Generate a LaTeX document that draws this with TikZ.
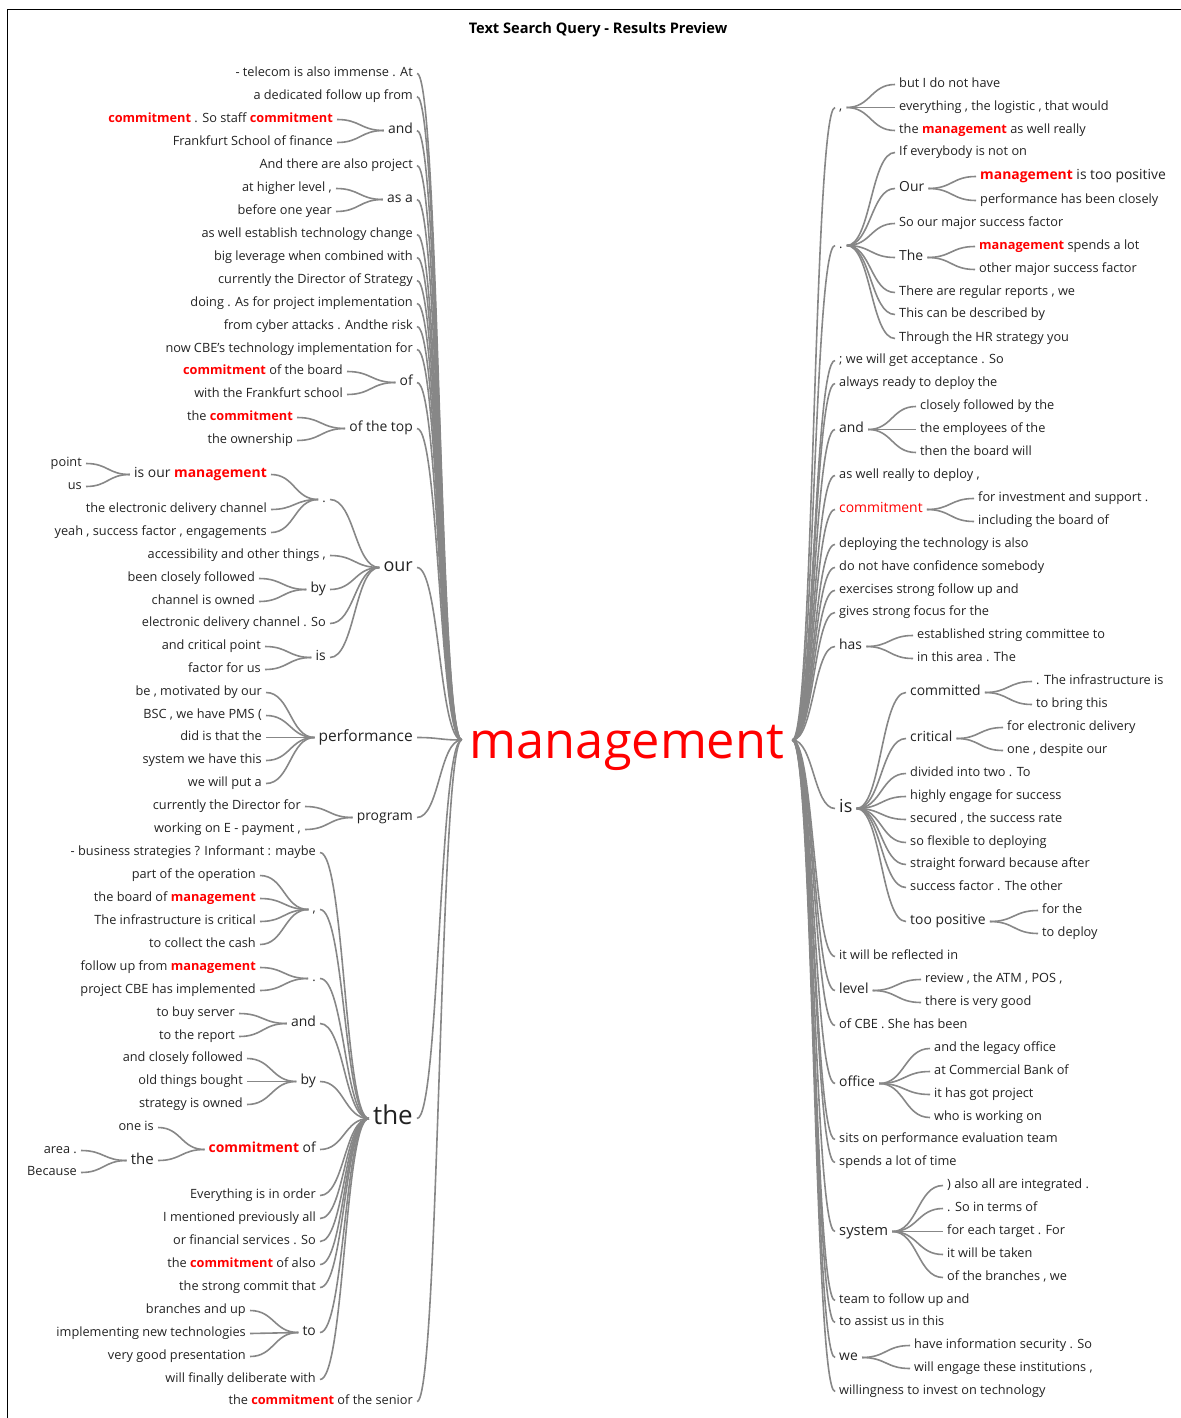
\documentclass[tikz,border=0pt]{standalone}
\usepackage{fontspec}
\setmainfont{Open Sans}
\usetikzlibrary{calc}

\definecolor{ink}{RGB}{34,34,34}
\definecolor{twig}{RGB}{135,135,135}
\newcommand{\kw}[1]{{\color{red}\bfseries #1}}

\begin{document}
\begin{tikzpicture}[x=1pt,y=-1pt,
  word/.style={inner sep=0pt,yshift=-2.5pt,text=ink,execute at begin node=\strut,font=\fontsize{12.75}{15.3}\selectfont},
  lw/.style={word,anchor=east},
  rw/.style={word,anchor=west},
  big/.style={font=\fontsize{13.9}{16.7}\selectfont},
  branch/.style={draw=twig,line width=1.6pt,shorten <=4pt,shorten >=4pt,
    to path={let \p1=(\tikztostart), \p2=(\tikztotarget) in
      .. controls ({(\x1+\x2)/2},\y1) and ({(\x1+\x2)/2},\y2) .. (\tikztotarget)}}]

  \useasboundingbox (0,0) rectangle (1180,1418);
  \draw[line width=1pt] (7.5,9.5) rectangle (1186,1424);

  \node[font=\bfseries\fontsize{14.6}{17}\selectfont] (title) at (598,30) {Text Search Query - Results Preview};
  \node[inner sep=4pt,text=red,font=\fontsize{50.5}{60}\selectfont,text height=40pt,text depth=4pt] (root) at (627,740) {management};

  % left side
  \node[lw] (l1) at (413,71) {- telecom is also immense . At};
  \node[lw] (l2) at (413,94) {a dedicated follow up from};
  \node[lw,big] (l3) at (413,128) {and};
  \node[lw] (l3a) at (333,117) {\kw{commitment} . So staff \kw{commitment}};
  \node[lw] (l3b) at (333,140) {Frankfurt School of finance};
  \node[lw] (l4) at (413,163) {And there are also project};
  \node[lw,big] (l5) at (413,197) {as a};
  \node[lw] (l5a) at (332,186) {at higher level ,};
  \node[lw] (l5b) at (332,209) {before one year};
  \node[lw] (l6) at (413,232) {as well establish technology change};
  \node[lw] (l7) at (413,255) {big leverage when combined with};
  \node[lw] (l8) at (413,278) {currently the Director of Strategy};
  \node[lw] (l9) at (413,301) {doing . As for project implementation};
  \node[lw] (l10) at (413,324) {from cyber attacks . Andthe risk};
  \node[lw] (l11) at (413,347) {now CBE’s technology implementation for};
  \node[lw,big] (l12) at (413,380) {of};
  \node[lw] (l12a) at (343,369) {\kw{commitment} of the board};
  \node[lw] (l12b) at (343,392) {with the Frankfurt school};
  \node[lw,big] (l13) at (413,426) {of the top};
  \node[lw] (l13a) at (293,415) {the \kw{commitment}};
  \node[lw] (l13b) at (293,438) {the ownership};
  \node[lw,font=\fontsize{18}{21.6}\selectfont] (l14) at (413,565) {our};
  \node[lw] (l14a) at (326,497) {.};
  \node[lw,big] (l14a1) at (267,472) {is our \kw{management}};
  \node[lw] (l14a1a) at (82,461) {point};
  \node[lw] (l14a1b) at (82,484) {us};
  \node[lw] (l14a2) at (267,507) {the electronic delivery channel};
  \node[lw] (l14a3) at (267,530) {yeah , success factor , engagements};
  \node[lw] (l14b) at (326,553) {accessibility and other things ,};
  \node[lw,big] (l14c) at (326,587) {by};
  \node[lw] (l14c1) at (255,576) {been closely followed};
  \node[lw] (l14c2) at (255,599) {channel is owned};
  \node[lw] (l14d) at (326,621) {electronic delivery channel . So};
  \node[lw,big] (l14e) at (326,655) {is};
  \node[lw] (l14e1) at (261,644) {and critical point};
  \node[lw] (l14e2) at (261,667) {factor for us};
  \node[lw,font=\fontsize{15.5}{18.6}\selectfont] (l15) at (413,735) {performance};
  \node[lw] (l15a) at (262,690) {be , motivated by our};
  \node[lw] (l15b) at (262,713) {BSC , we have PMS (};
  \node[lw] (l15c) at (262,735) {did is that the};
  \node[lw] (l15d) at (262,758) {system we have this};
  \node[lw] (l15e) at (262,781) {we will put a};
  \node[lw,big] (l16) at (413,815) {program};
  \node[lw] (l16a) at (301,804) {currently the Director for};
  \node[lw] (l16b) at (301,827) {working on E - payment ,};
  \node[lw,font=\fontsize{26}{31.2}\selectfont] (l17) at (413,1116) {the};
  \node[lw] (l17a) at (316,850) {- business strategies ? Informant : maybe};
  \node[lw] (l17b) at (316,907) {,};
  \node[lw] (l17b1) at (256,873) {part of the operation};
  \node[lw] (l17b2) at (256,896) {the board of \kw{management}};
  \node[lw] (l17b3) at (256,919) {The infrastructure is critical};
  \node[lw] (l17b4) at (256,942) {to collect the cash};
  \node[lw] (l17c) at (316,976) {.};
  \node[lw] (l17c1) at (256,965) {follow up from \kw{management}};
  \node[lw] (l17c2) at (256,988) {project CBE has implemented};
  \node[lw,big] (l17d) at (316,1021) {and};
  \node[lw] (l17d1) at (235,1011) {to buy server};
  \node[lw] (l17d2) at (235,1034) {to the report};
  \node[lw,big] (l17e) at (316,1079) {by};
  \node[lw] (l17e1) at (243,1056) {and closely followed};
  \node[lw] (l17e2) at (243,1079) {old things bought};
  \node[lw] (l17e3) at (243,1102) {strategy is owned};
  \node[lw,big] (l17f) at (316,1147) {\kw{commitment} of};
  \node[lw] (l17f1) at (154,1125) {one is};
  \node[lw,font=\fontsize{15}{18}\selectfont] (l17f2) at (154,1158) {the};
  \node[lw] (l17f2a) at (77,1148) {area .};
  \node[lw] (l17f2b) at (77,1170) {Because};
  \node[lw] (l17g) at (316,1193) {Everything is in order};
  \node[lw] (l17h) at (316,1216) {I mentioned previously all};
  \node[lw] (l17i) at (316,1239) {or financial services . So};
  \node[lw] (l17j) at (316,1262) {the \kw{commitment} of also};
  \node[lw] (l17k) at (316,1285) {the strong commit that};
  \node[lw,big] (l17l) at (316,1330) {to};
  \node[lw] (l17l1) at (246,1308) {branches and up};
  \node[lw] (l17l2) at (246,1331) {implementing new technologies};
  \node[lw] (l17l3) at (246,1354) {very good presentation};
  \node[lw] (l17m) at (316,1377) {will finally deliberate with};
  \node[lw] (l18) at (413,1399) {the \kw{commitment} of the senior};

  % right side
  \node[rw] (r1) at (839,105) {,};
  \node[rw] (r1a) at (899,82) {but I do not have};
  \node[rw] (r1b) at (899,105) {everything , the logistic , that would};
  \node[rw] (r1c) at (899,128) {the \kw{management} as well really};
  \node[rw] (r2) at (839,243) {.};
  \node[rw] (r2a) at (899,150) {If everybody is not on};
  \node[rw,big] (r2b) at (899,186) {Our};
  \node[rw,big] (r2b1) at (980,174) {\kw{management} is too positive};
  \node[rw] (r2b2) at (980,198) {performance has been closely};
  \node[rw] (r2c) at (899,221) {So our major success factor};
  \node[rw,big] (r2d) at (899,255) {The};
  \node[rw] (r2d1) at (979,244) {\kw{management} spends a lot};
  \node[rw] (r2d2) at (979,267) {other major success factor};
  \node[rw] (r2e) at (899,290) {There are regular reports , we};
  \node[rw] (r2f) at (899,312) {This can be described by};
  \node[rw] (r2g) at (899,336) {Through the HR strategy you};
  \node[rw] (r3) at (839,358) {; we will get acceptance . So};
  \node[rw] (r4) at (839,381) {always ready to deploy the};
  \node[rw,big] (r5) at (839,427) {and};
  \node[rw] (r5a) at (920,404) {closely followed by the};
  \node[rw] (r5b) at (920,427) {the employees of the};
  \node[rw] (r5c) at (920,450) {then the board will};
  \node[rw] (r6) at (839,473) {as well really to deploy ,};
  \node[rw,big,text=red] (r7) at (839,507) {commitment};
  \node[rw] (r7a) at (978,496) {for investment and support .};
  \node[rw] (r7b) at (978,519) {including the board of};
  \node[rw] (r8) at (839,542) {deploying the technology is also};
  \node[rw] (r9) at (839,565) {do not have confidence somebody};
  \node[rw] (r10) at (839,588) {exercises strong follow up and};
  \node[rw] (r11) at (839,610) {gives strong focus for the};
  \node[rw,big] (r12) at (839,644) {has};
  \node[rw] (r12a) at (917,633) {established string committee to};
  \node[rw] (r12b) at (917,656) {in this area . The};
  \node[rw,font=\fontsize{18}{21.6}\selectfont] (r13) at (839,806) {is};
  \node[rw,big] (r13a) at (910,690) {committed};
  \node[rw] (r13a1) at (1036,679) {. The infrastructure is};
  \node[rw] (r13a2) at (1036,702) {to bring this};
  \node[rw,big] (r13b) at (910,736) {critical};
  \node[rw] (r13b1) at (1007,725) {for electronic delivery};
  \node[rw] (r13b2) at (1007,748) {one , despite our};
  \node[rw] (r13c) at (910,771) {divided into two . To};
  \node[rw] (r13d) at (910,794) {highly engage for success};
  \node[rw] (r13e) at (910,817) {secured , the success rate};
  \node[rw] (r13f) at (910,840) {so flexible to deploying};
  \node[rw] (r13g) at (910,862) {straight forward because after};
  \node[rw] (r13h) at (910,885) {success factor . The other};
  \node[rw,big] (r13i) at (910,919) {too positive};
  \node[rw] (r13i1) at (1042,908) {for the};
  \node[rw] (r13i2) at (1042,931) {to deploy};
  \node[rw] (r14) at (839,954) {it will be reflected in};
  \node[rw,big] (r15) at (839,988) {level};
  \node[rw] (r15a) at (925,977) {review , the ATM , POS ,};
  \node[rw] (r15b) at (925,1000) {there is very good};
  \node[rw] (r16) at (839,1023) {of CBE . She has been};
  \node[rw,big] (r17) at (839,1081) {office};
  \node[rw] (r17a) at (934,1046) {and the legacy office};
  \node[rw] (r17b) at (934,1069) {at Commercial Bank of};
  \node[rw] (r17c) at (934,1092) {it has got project};
  \node[rw] (r17d) at (934,1115) {who is working on};
  \node[rw] (r18) at (839,1137) {sits on performance evaluation team};
  \node[rw] (r19) at (839,1160) {spends a lot of time};
  \node[rw,font=\fontsize{14.8}{17.8}\selectfont] (r20) at (839,1229) {system};
  \node[rw] (r20a) at (947,1183) {) also all are integrated .};
  \node[rw] (r20b) at (947,1206) {. So in terms of};
  \node[rw] (r20c) at (947,1229) {for each target . For};
  \node[rw] (r20d) at (947,1252) {it will be taken};
  \node[rw] (r20e) at (947,1275) {of the branches , we};
  \node[rw] (r21) at (839,1298) {team to follow up and};
  \node[rw] (r22) at (839,1320) {to assist us in this};
  \node[rw,big] (r23) at (839,1355) {we};
  \node[rw] (r23a) at (914,1343) {have information security . So};
  \node[rw] (r23b) at (914,1366) {will engage these institutions ,};
  \node[rw] (r24) at (839,1389) {willingness to invest on technology};

  \path[branch]
    (l1.east) edge (root.west)
    (l2.east) edge (root.west)
    (l3.east) edge (root.west)
    (l3a.east) edge (l3.west)
    (l3b.east) edge (l3.west)
    (l4.east) edge (root.west)
    (l5.east) edge (root.west)
    (l5a.east) edge (l5.west)
    (l5b.east) edge (l5.west)
    (l6.east) edge (root.west)
    (l7.east) edge (root.west)
    (l8.east) edge (root.west)
    (l9.east) edge (root.west)
    (l10.east) edge (root.west)
    (l11.east) edge (root.west)
    (l12.east) edge (root.west)
    (l12a.east) edge (l12.west)
    (l12b.east) edge (l12.west)
    (l13.east) edge (root.west)
    (l13a.east) edge (l13.west)
    (l13b.east) edge (l13.west)
    (l14.east) edge (root.west)
    (l14a.east) edge (l14.west)
    (l14a1.east) edge (l14a.west)
    (l14a1a.east) edge (l14a1.west)
    (l14a1b.east) edge (l14a1.west)
    (l14a2.east) edge (l14a.west)
    (l14a3.east) edge (l14a.west)
    (l14b.east) edge (l14.west)
    (l14c.east) edge (l14.west)
    (l14c1.east) edge (l14c.west)
    (l14c2.east) edge (l14c.west)
    (l14d.east) edge (l14.west)
    (l14e.east) edge (l14.west)
    (l14e1.east) edge (l14e.west)
    (l14e2.east) edge (l14e.west)
    (l15.east) edge (root.west)
    (l15a.east) edge (l15.west)
    (l15b.east) edge (l15.west)
    (l15c.east) edge (l15.west)
    (l15d.east) edge (l15.west)
    (l15e.east) edge (l15.west)
    (l16.east) edge (root.west)
    (l16a.east) edge (l16.west)
    (l16b.east) edge (l16.west)
    (l17.east) edge (root.west)
    (l17a.east) edge (l17.west)
    (l17b.east) edge (l17.west)
    (l17b1.east) edge (l17b.west)
    (l17b2.east) edge (l17b.west)
    (l17b3.east) edge (l17b.west)
    (l17b4.east) edge (l17b.west)
    (l17c.east) edge (l17.west)
    (l17c1.east) edge (l17c.west)
    (l17c2.east) edge (l17c.west)
    (l17d.east) edge (l17.west)
    (l17d1.east) edge (l17d.west)
    (l17d2.east) edge (l17d.west)
    (l17e.east) edge (l17.west)
    (l17e1.east) edge (l17e.west)
    (l17e2.east) edge (l17e.west)
    (l17e3.east) edge (l17e.west)
    (l17f.east) edge (l17.west)
    (l17f1.east) edge (l17f.west)
    (l17f2.east) edge (l17f.west)
    (l17f2a.east) edge (l17f2.west)
    (l17f2b.east) edge (l17f2.west)
    (l17g.east) edge (l17.west)
    (l17h.east) edge (l17.west)
    (l17i.east) edge (l17.west)
    (l17j.east) edge (l17.west)
    (l17k.east) edge (l17.west)
    (l17l.east) edge (l17.west)
    (l17l1.east) edge (l17l.west)
    (l17l2.east) edge (l17l.west)
    (l17l3.east) edge (l17l.west)
    (l17m.east) edge (l17.west)
    (l18.east) edge (root.west);

  \path[branch]
    (root.east) edge (r1.west)
    (r1.east) edge (r1a.west)
    (r1.east) edge (r1b.west)
    (r1.east) edge (r1c.west)
    (root.east) edge (r2.west)
    (r2.east) edge (r2a.west)
    (r2.east) edge (r2b.west)
    (r2b.east) edge (r2b1.west)
    (r2b.east) edge (r2b2.west)
    (r2.east) edge (r2c.west)
    (r2.east) edge (r2d.west)
    (r2d.east) edge (r2d1.west)
    (r2d.east) edge (r2d2.west)
    (r2.east) edge (r2e.west)
    (r2.east) edge (r2f.west)
    (r2.east) edge (r2g.west)
    (root.east) edge (r3.west)
    (root.east) edge (r4.west)
    (root.east) edge (r5.west)
    (r5.east) edge (r5a.west)
    (r5.east) edge (r5b.west)
    (r5.east) edge (r5c.west)
    (root.east) edge (r6.west)
    (root.east) edge (r7.west)
    (r7.east) edge (r7a.west)
    (r7.east) edge (r7b.west)
    (root.east) edge (r8.west)
    (root.east) edge (r9.west)
    (root.east) edge (r10.west)
    (root.east) edge (r11.west)
    (root.east) edge (r12.west)
    (r12.east) edge (r12a.west)
    (r12.east) edge (r12b.west)
    (root.east) edge (r13.west)
    (r13.east) edge (r13a.west)
    (r13a.east) edge (r13a1.west)
    (r13a.east) edge (r13a2.west)
    (r13.east) edge (r13b.west)
    (r13b.east) edge (r13b1.west)
    (r13b.east) edge (r13b2.west)
    (r13.east) edge (r13c.west)
    (r13.east) edge (r13d.west)
    (r13.east) edge (r13e.west)
    (r13.east) edge (r13f.west)
    (r13.east) edge (r13g.west)
    (r13.east) edge (r13h.west)
    (r13.east) edge (r13i.west)
    (r13i.east) edge (r13i1.west)
    (r13i.east) edge (r13i2.west)
    (root.east) edge (r14.west)
    (root.east) edge (r15.west)
    (r15.east) edge (r15a.west)
    (r15.east) edge (r15b.west)
    (root.east) edge (r16.west)
    (root.east) edge (r17.west)
    (r17.east) edge (r17a.west)
    (r17.east) edge (r17b.west)
    (r17.east) edge (r17c.west)
    (r17.east) edge (r17d.west)
    (root.east) edge (r18.west)
    (root.east) edge (r19.west)
    (root.east) edge (r20.west)
    (r20.east) edge (r20a.west)
    (r20.east) edge (r20b.west)
    (r20.east) edge (r20c.west)
    (r20.east) edge (r20d.west)
    (r20.east) edge (r20e.west)
    (root.east) edge (r21.west)
    (root.east) edge (r22.west)
    (root.east) edge (r23.west)
    (r23.east) edge (r23a.west)
    (r23.east) edge (r23b.west)
    (root.east) edge (r24.west);

\end{tikzpicture}
\end{document}
